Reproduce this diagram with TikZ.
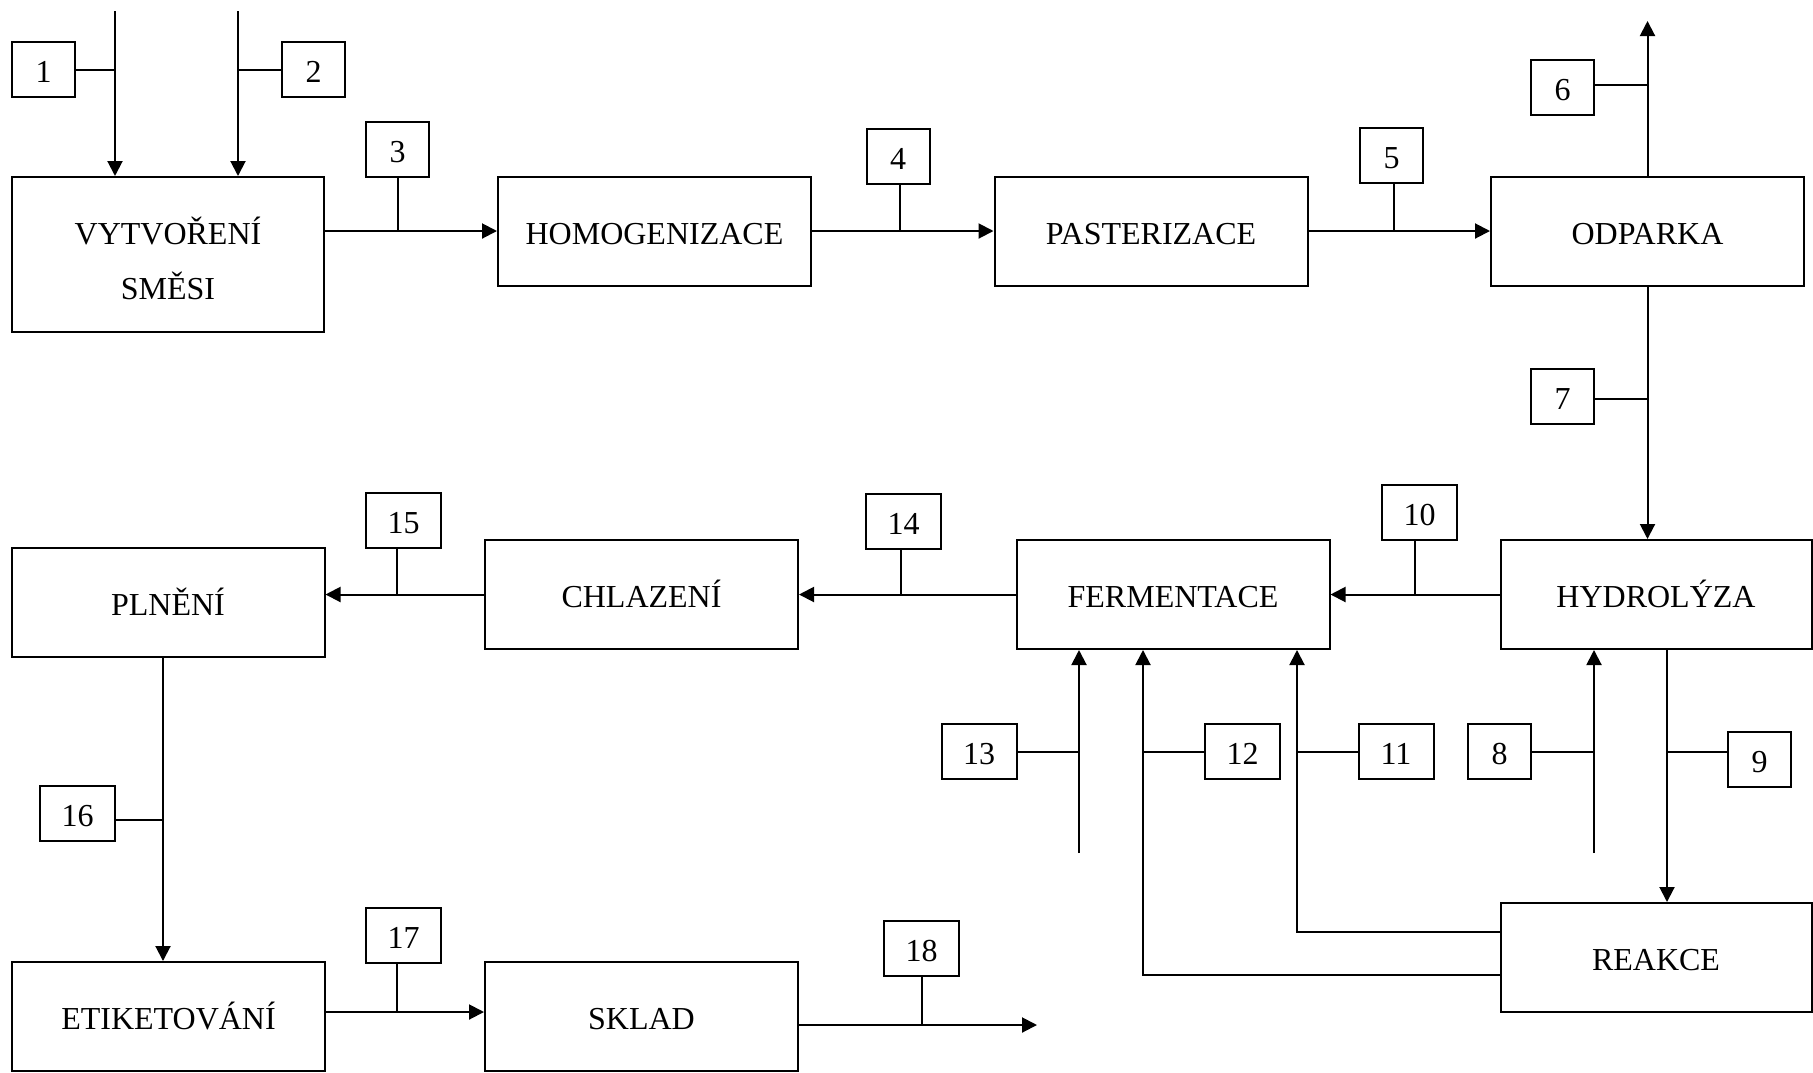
\documentclass[tikz,border=0pt]{standalone}
\usepackage{fontspec}
\setmainfont{Liberation Serif}
\usetikzlibrary{arrows.meta}
\begin{document}
\begin{tikzpicture}[x=1pt,y=-1pt,line width=2pt,
  base/.style={draw, line width=2pt, inner sep=0pt, font=\fontsize{32}{38}\selectfont},
  box/.style={base, text height=26pt, text depth=0pt},
  proc/.style={box, minimum width=313pt, minimum height=109pt},
  num/.style={box, minimum width=63pt, minimum height=55pt},
  wnum/.style={box, minimum width=75pt, minimum height=55pt},
  arr/.style={-{Triangle[length=15pt,width=15pt]}}
]
\useasboundingbox (0,0) rectangle (1813,1072);

% process boxes
\node[base, minimum width=312pt, minimum height=155pt, align=center, font=\fontsize{32}{55}\selectfont] (vyt) at (168,254.5) {\rule{0pt}{35pt}VYTVOŘENÍ\\SMĚSI};
\node[proc] (homo) at (654.5,231) {HOMOGENIZACE};
\node[proc] (past) at (1151,231) {PASTERIZACE};
\node[proc] (odp) at (1647.5,231) {ODPARKA};
\node[proc, minimum width=311pt] (hyd) at (1656,594.5) {HYDROLÝZA};
\node[proc] (ferm) at (1173,594.5) {FERMENTACE};
\node[proc] (chl) at (641.5,594.5) {CHLAZENÍ};
\node[proc] (pln) at (168,602.5) {PLNĚNÍ};
\node[proc, minimum width=311pt] (reak) at (1656,957.5) {REAKCE};
\node[proc] (etik) at (168.5,1016.5) {ETIKETOVÁNÍ};
\node[proc] (sklad) at (641.5,1016.5) {SKLAD};

% number boxes
\node[num] (n1) at (43.5,69.5) {1};
\node[num] (n2) at (313.5,69.5) {2};
\node[num] (n3) at (397.5,149.5) {3};
\node[num] (n4) at (898,156.5) {4};
\node[num] (n5) at (1391.5,155.5) {5};
\node[num] (n6) at (1562.5,87) {6};
\node[num] (n7) at (1562.5,396) {7};
\node[num] (n8) at (1499.5,751.5) {8};
\node[num] (n9) at (1759.5,759.5) {9};
\node[wnum] (n10) at (1419.5,512.5) {10};
\node[wnum] (n11) at (1396,751.5) {11};
\node[wnum] (n12) at (1242.5,751.5) {12};
\node[wnum] (n13) at (979,751.5) {13};
\node[wnum] (n14) at (903.5,521) {14};
\node[wnum] (n15) at (403.5,520.5) {15};
\node[wnum] (n16) at (77.5,813.5) {16};
\node[wnum] (n17) at (403.5,935.5) {17};
\node[wnum] (n18) at (921.5,948.5) {18};

% free ends and bends
\coordinate (c1) at (115,11);
\coordinate (c2) at (238,11);
\coordinate (c6) at (1647.5,21);
\coordinate (c8) at (1594,853);
\coordinate (c13) at (1079,853);
\coordinate (c11) at (1297,932);
\coordinate (c12) at (1143,975);
\coordinate (c18) at (1037,1025);
\coordinate (v9) at ([xshift=11pt]hyd.south);
\coordinate (v16) at ([xshift=-5pt]pln.south);
\coordinate (e16) at ([yshift=-6.5pt]n16.east);
\coordinate (a17) at ([yshift=4.5pt]etik.east);
\coordinate (s17) at ([xshift=-6.5pt]n17.south);

% top row
\draw[arr] (c1) -- (c1 |- vyt.north);
\draw (n1.east) -- (n1.east -| c1);
\draw[arr] (c2) -- (c2 |- vyt.north);
\draw (n2.west) -- (n2.west -| c2);
\draw[arr] (vyt.east |- homo.west) -- (homo.west);
\draw (n3.south) -- (n3.south |- homo.west);
\draw[arr] (homo.east) -- (past.west);
\draw ([xshift=2pt]n4.south) -- ([xshift=2pt]n4.south |- homo.east);
\draw[arr] (past.east) -- (odp.west);
\draw ([xshift=2.5pt]n5.south) -- ([xshift=2.5pt]n5.south |- past.east);
\draw[arr] (odp.north) -- (c6);
\draw ([yshift=2pt]n6.east) -- ([yshift=2pt]n6.east -| c6);
\draw[arr] (odp.south) -- (odp.south |- hyd.north);
\draw ([yshift=-3pt]n7.east) -- ([yshift=-3pt]n7.east -| odp.south);

% middle row
\draw[arr] (hyd.west) -- (ferm.east);
\draw ([xshift=-4.5pt]n10.south) -- ([xshift=-4.5pt]n10.south |- hyd.west);
\draw[arr] (ferm.west) -- (chl.east);
\draw ([xshift=-2.5pt]n14.south) -- ([xshift=-2.5pt]n14.south |- ferm.west);
\draw[arr] (chl.west) -- (chl.west -| pln.east);
\draw ([xshift=-6.5pt]n15.south) -- ([xshift=-6.5pt]n15.south |- chl.west);

% inputs below
\draw[arr] (c13) -- (c13 |- ferm.south);
\draw (n13.east) -- (n13.east -| c13);
\draw[arr] (reak.west |- c12) -- (c12) -- (c12 |- ferm.south);
\draw (n12.west) -- (n12.west -| c12);
\draw[arr] (reak.west |- c11) -- (c11) -- (c11 |- ferm.south);
\draw (n11.west) -- (n11.west -| c11);
\draw[arr] (c8) -- (c8 |- hyd.south);
\draw (n8.east) -- (n8.east -| c8);
\draw[arr] (v9) -- (v9 |- reak.north);
\draw (n9.west |- n8.east) -- (v9 |- n8.east);

% left column and bottom row
\draw[arr] (v16) -- (v16 |- etik.north);
\draw (e16) -- (e16 -| v16);
\draw[arr] (a17) -- (a17 -| sklad.west);
\draw (s17) -- (s17 |- a17);
\draw[arr] (sklad.east |- c18) -- (c18);
\draw (n18.south) -- (n18.south |- c18);
\end{tikzpicture}
\end{document}
